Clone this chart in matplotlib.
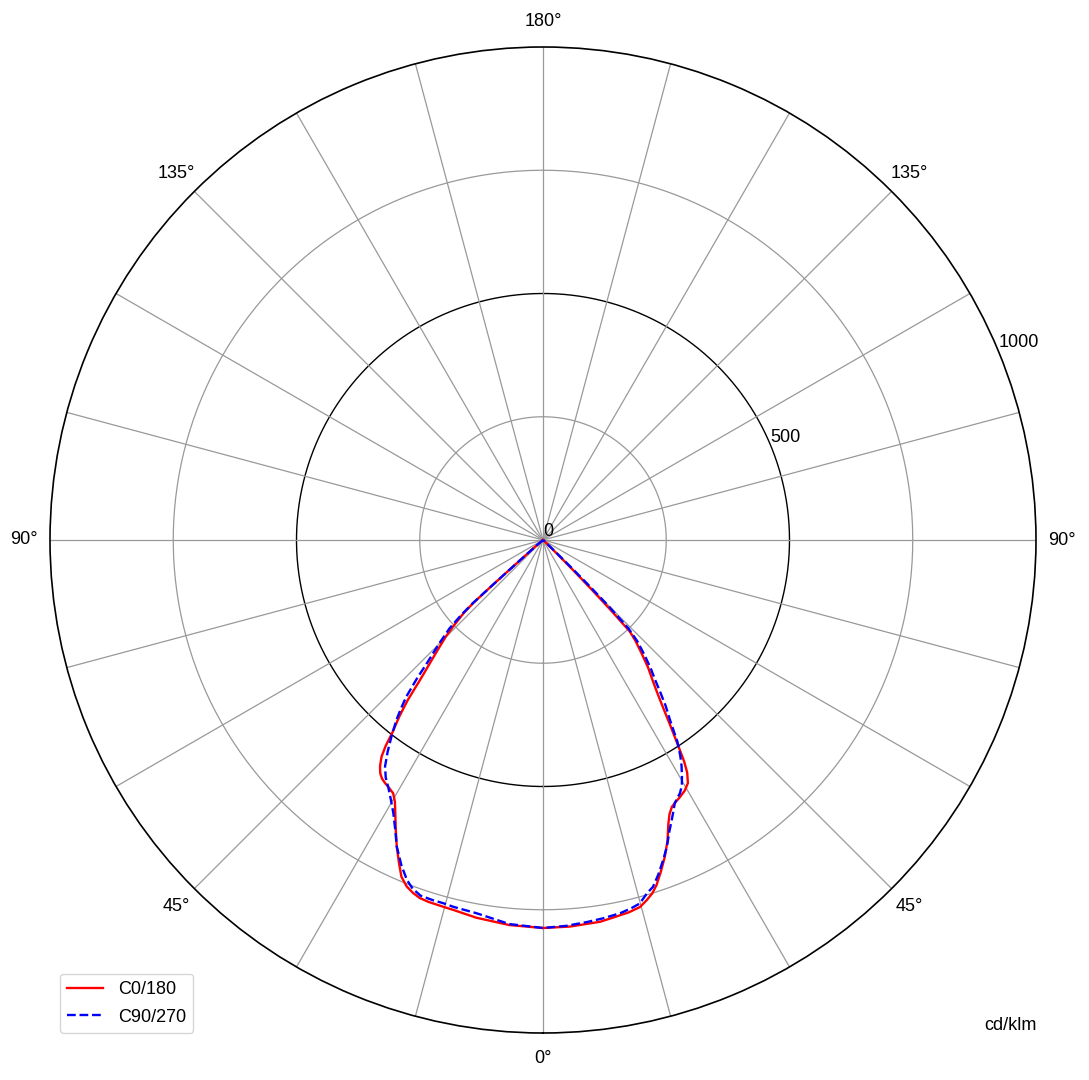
import numpy as np
import matplotlib.pyplot as plt

plt.rcParams['font.family'] = ['Liberation Sans', 'DejaVu Sans']
plt.rcParams['font.size'] = 13

# gamma angle (deg from nadir) and luminous intensity (cd/klm)
# C0 -> right half, C180 -> left half
c0_gamma = [0, 4, 8.5, 10.5, 13, 14.8, 16.1, 17.2, 18.2, 19.5, 21, 22.5, 23.8, 24.8, 25.8,
            26.8, 28, 29.5, 30.8, 31.8, 32.5, 33.2, 34.5, 35.4, 36.2, 37, 38, 39.5, 41,
            42.5, 43.5, 44, 44.5, 45, 45.5, 46.5, 50, 60, 90]
c0_cd = [787, 786, 783, 779, 775, 770, 760, 750, 737, 715, 689, 660, 630, 612, 601,
         596, 591, 584, 574, 555, 533, 504, 455, 425, 402, 382, 361, 335, 305,
         278, 256, 200, 140, 85, 45, 15, 4, 0, 0]

c180_gamma = [0, 5, 10, 13.7, 15.2, 17.5, 19, 20.2, 21.5, 22.8, 24, 25.5, 27, 28.4, 29.5,
              30.6, 31.8, 33, 34, 34.9, 35.8, 36.7, 37.4, 38, 39.2, 40.2, 41.3, 42.6, 44.1,
              45.2, 46.1, 47.3, 47.9, 48.2, 48.4, 48.7, 49.5, 55, 90]
c180_cd = [787, 784, 778, 772, 771, 770, 768, 763, 755, 741, 718, 689, 658, 630, 610,
           597, 592, 588, 584, 577, 565, 548, 525, 497, 460, 425, 378, 338, 301,
           277, 253, 220, 191, 140, 91, 50, 20, 0, 0]

# C90 -> right half, C270 -> left half
c90_gamma = [0, 3.5, 6.6, 9, 11.7, 13.5, 14.9, 16.4, 17.6, 19, 20.6, 22, 23.4, 24.7, 25.7,
             26.6, 27.5, 28.4, 29.5, 30.4, 31.5, 32.5, 33.7, 35, 36.5, 37.6, 38.7, 40, 41.5,
             43, 44, 44.8, 45.3, 45.8, 46.3, 47.5, 55, 90]
c90_cd = [787, 784, 780, 777, 773, 768, 763, 747, 738, 718, 693, 671, 645, 625, 610,
          597, 590, 584, 572, 557, 538, 518, 491, 452, 418, 390, 364, 340, 310,
          280, 250, 190, 130, 80, 40, 12, 3, 0]

c270_gamma = [0, 5, 10.1, 13.7, 15.3, 17, 19, 20.5, 21.8, 23.5, 25.5, 27, 28.7, 30.4, 32.1,
              33.5, 34.9, 36.3, 37.8, 39.2, 40.2, 41.1, 42.3, 43.4, 45.1, 46.6, 47.5, 48,
              48.2, 48.4, 48.7, 49.5, 55, 90]
c270_cd = [787, 782, 769, 766, 764, 764, 763, 755, 743, 720, 689, 660, 632, 610, 591,
           578, 560, 532, 500, 470, 445, 422, 380, 340, 297, 261, 225, 191,
           140, 91, 50, 20, 0, 0]

theta_ticks = list(range(0, 360, 15))
theta_names = {0: '0°', 45: '45°', 90: '90°', 135: '135°', 180: '180°',
               225: '135°', 270: '90°', 315: '45°'}
r_ticks = [0, 250, 500, 750, 1000]
r_labels = ['0', '', '500', '', '1000']


def join_halves(g_right, v_right, g_left, v_left):
    th = np.concatenate([-np.array(g_left, float)[::-1], np.array(g_right, float)])
    r = np.concatenate([np.array(v_left, float)[::-1], np.array(v_right, float)])
    return np.radians(th), r


fig = plt.figure(figsize=(10.89, 10.8), dpi=100)
ax = fig.add_axes([50 / 1089, 47 / 1080, 986 / 1089, 986 / 1080], projection='polar')
ax.set_theta_zero_location('S')
ax.set_theta_direction(1)
ax.set_ylim(0, 1000)

ax.set_thetagrids(theta_ticks, [theta_names.get(t, '') for t in theta_ticks])
ax.set_yticks(r_ticks, r_labels)
ax.set_rlabel_position(112.5)
ax.xaxis.grid(True, color='#999999', lw=0.9)
ax.yaxis.grid(False)
ax.tick_params(axis='x', pad=8)

circ = np.linspace(0, 2 * np.pi, 400)
for rr, col in [(250, '#999999'), (500, 'black'), (750, '#999999')]:
    ax.plot(circ, np.full_like(circ, rr), color=col, lw=1.0 if col == 'black' else 0.9, zorder=1)
ax.spines['polar'].set_color('black')
ax.spines['polar'].set_linewidth(1.2)

th, r = join_halves(c0_gamma, c0_cd, c180_gamma, c180_cd)
ax.plot(th, r, color='red', lw=1.7, label='C0/180', zorder=3)
th, r = join_halves(c90_gamma, c90_cd, c270_gamma, c270_cd)
ax.plot(th, r, color='blue', lw=1.7, ls='--', label='C90/270', zorder=4)

handles, labels = ax.get_legend_handles_labels()
fig.legend(handles, labels, loc='lower left', bbox_to_anchor=(60 / 1089, 47 / 1080),
           borderaxespad=0, fontsize=13, labelspacing=0.6)
fig.text(1010 / 1089, 1 - 1025 / 1080, 'cd/klm', ha='center', va='center', fontsize=13)

fig.savefig('out.png', dpi=100)
